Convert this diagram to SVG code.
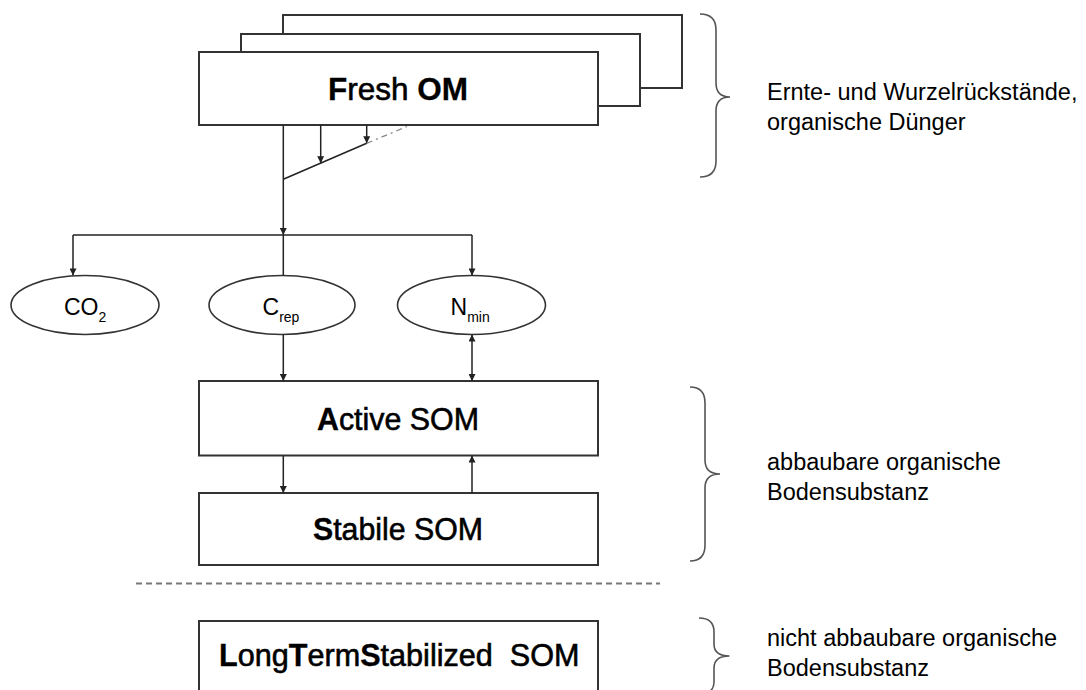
<svg xmlns="http://www.w3.org/2000/svg" width="1086" height="690" viewBox="0 0 1086 690">
  <defs>
    <marker id="arr" viewBox="0 0 10 10" refX="10" refY="5" markerWidth="8" markerHeight="7" markerUnits="userSpaceOnUse" orient="auto-start-reverse">
      <path d="M0,0 L10,5 L0,10 z" fill="#222"/>
    </marker>
    <style>
      .box { fill: #fff; stroke: #333; stroke-width: 2; }
      .ell { fill: #fff; stroke: #333; stroke-width: 1.6; }
      .con { fill: none; stroke: #222; stroke-width: 1.5; }
      .brace { fill: none; stroke: #555; stroke-width: 1.6; }
      .lbl { font-family: "Liberation Sans", Arial, sans-serif; font-size: 32px; fill: #000; }
      .med { font-weight: normal; stroke: #000; stroke-width: 0.6; }
      .bld { font-weight: bold; stroke: #000; stroke-width: 0.3; }
      .ellt { font-family: "Liberation Sans", Arial, sans-serif; font-size: 23px; fill: #000; }
      .sub { font-size: 14px; }
      .note { font-family: "Liberation Sans", Arial, sans-serif; font-size: 23.5px; fill: #000; }
    </style>
  </defs>

  <g id="fresh-om">
    <rect class="box" x="283" y="15" width="399" height="73"/>
    <rect class="box" x="241" y="34" width="399" height="72"/>
    <rect class="box" x="199" y="52" width="399" height="73"/>
    <text class="lbl" x="328" y="100" textLength="140" lengthAdjust="spacingAndGlyphs"><tspan class="bld">F</tspan><tspan class="med">resh </tspan><tspan class="bld">OM</tspan></text>
  </g>

  <g id="co2">
    <ellipse class="ell" cx="85" cy="305" rx="74" ry="29.5"/>
    <text class="ellt" x="64" y="315">CO<tspan class="sub" dy="7">2</tspan></text>
  </g>
  <g id="crep">
    <ellipse class="ell" cx="282" cy="305" rx="73" ry="29.5"/>
    <text class="ellt" x="262.5" y="315">C<tspan class="sub" dy="7">rep</tspan></text>
  </g>
  <g id="nmin">
    <ellipse class="ell" cx="471.5" cy="305" rx="74" ry="29.5"/>
    <text class="ellt" x="450.5" y="315">N<tspan class="sub" dy="7">min</tspan></text>
  </g>

  <g id="active-som">
    <rect class="box" x="199" y="381" width="399" height="74.5"/>
    <text class="lbl" x="317" y="430" textLength="162" lengthAdjust="spacingAndGlyphs"><tspan class="bld">A</tspan><tspan class="med">ctive SOM</tspan></text>
  </g>

  <g id="stabile-som">
    <rect class="box" x="199" y="493" width="399" height="72"/>
    <text class="lbl" x="313" y="540" textLength="170" lengthAdjust="spacingAndGlyphs"><tspan class="bld">S</tspan><tspan class="med">tabile SOM</tspan></text>
  </g>

  <g id="longterm-som">
    <rect class="box" x="199" y="621" width="399" height="85"/>
    <text class="lbl" x="219" y="666" style="white-space:pre;font-size:30.6px"><tspan class="bld">L</tspan><tspan class="med">ong</tspan><tspan class="bld">T</tspan><tspan class="med">erm</tspan><tspan class="bld">S</tspan><tspan class="med">tabilized  SOM</tspan></text>
  </g>

  <g id="connectors">
    <line class="con" x1="283.3" y1="125" x2="283.3" y2="235" marker-end="url(#arr)"/>
    <line class="con" x1="283.3" y1="235" x2="283.3" y2="275.5"/>
    <line class="con" x1="320.7" y1="125" x2="320.7" y2="163.2" marker-end="url(#arr)"/>
    <line class="con" x1="366.7" y1="125" x2="366.7" y2="143.3" marker-end="url(#arr)"/>
    <line class="con" x1="283.3" y1="179.3" x2="366.7" y2="143.3"/>
    <line x1="366.7" y1="143.3" x2="407" y2="126.5" stroke="#888" stroke-width="1.3" stroke-dasharray="6 4 2 4"/>
    <line class="con" x1="73" y1="235" x2="472" y2="235"/>
    <line class="con" x1="73" y1="235" x2="73" y2="275.5" marker-end="url(#arr)"/>
    <line class="con" x1="472" y1="235" x2="472" y2="275.5" marker-end="url(#arr)"/>
    <line class="con" x1="283.3" y1="334.5" x2="283.3" y2="381" marker-end="url(#arr)"/>
    <line class="con" x1="472" y1="334.5" x2="472" y2="381" marker-start="url(#arr)" marker-end="url(#arr)"/>
    <line class="con" x1="283.3" y1="455.5" x2="283.3" y2="493" marker-end="url(#arr)"/>
    <line class="con" x1="472" y1="493" x2="472" y2="455.5" marker-end="url(#arr)"/>
    <line x1="136" y1="583.5" x2="660" y2="583.5" stroke="#777" stroke-width="2" stroke-dasharray="6 4"/>
  </g>

  <g id="brace-fresh">
    <path class="brace" d="M700,14 Q716,14 716,30 L716,83 Q716,97 730,97 Q716,97 716,111 L716,161 Q716,177 700,177"/>
    <text class="note" x="767" y="100">Ernte- und Wurzelrückstände,</text>
    <text class="note" x="767" y="130">organische Dünger</text>
  </g>

  <g id="brace-abbaubar">
    <path class="brace" d="M690,387 Q705,387 705,403 L705,460 Q705,474 720,474 Q705,474 705,488 L705,545 Q705,561 690,561"/>
    <text class="note" x="767" y="470">abbaubare organische</text>
    <text class="note" x="767" y="500">Bodensubstanz</text>
  </g>

  <g id="brace-nicht">
    <path class="brace" d="M699,618 Q714,618 714,632 L714,644 Q714,656 729.5,656 Q714,656 714,668 L714,682 Q714,694 699,694"/>
    <text class="note" x="767" y="646">nicht abbaubare organische</text>
    <text class="note" x="767" y="676">Bodensubstanz</text>
  </g>
</svg>
